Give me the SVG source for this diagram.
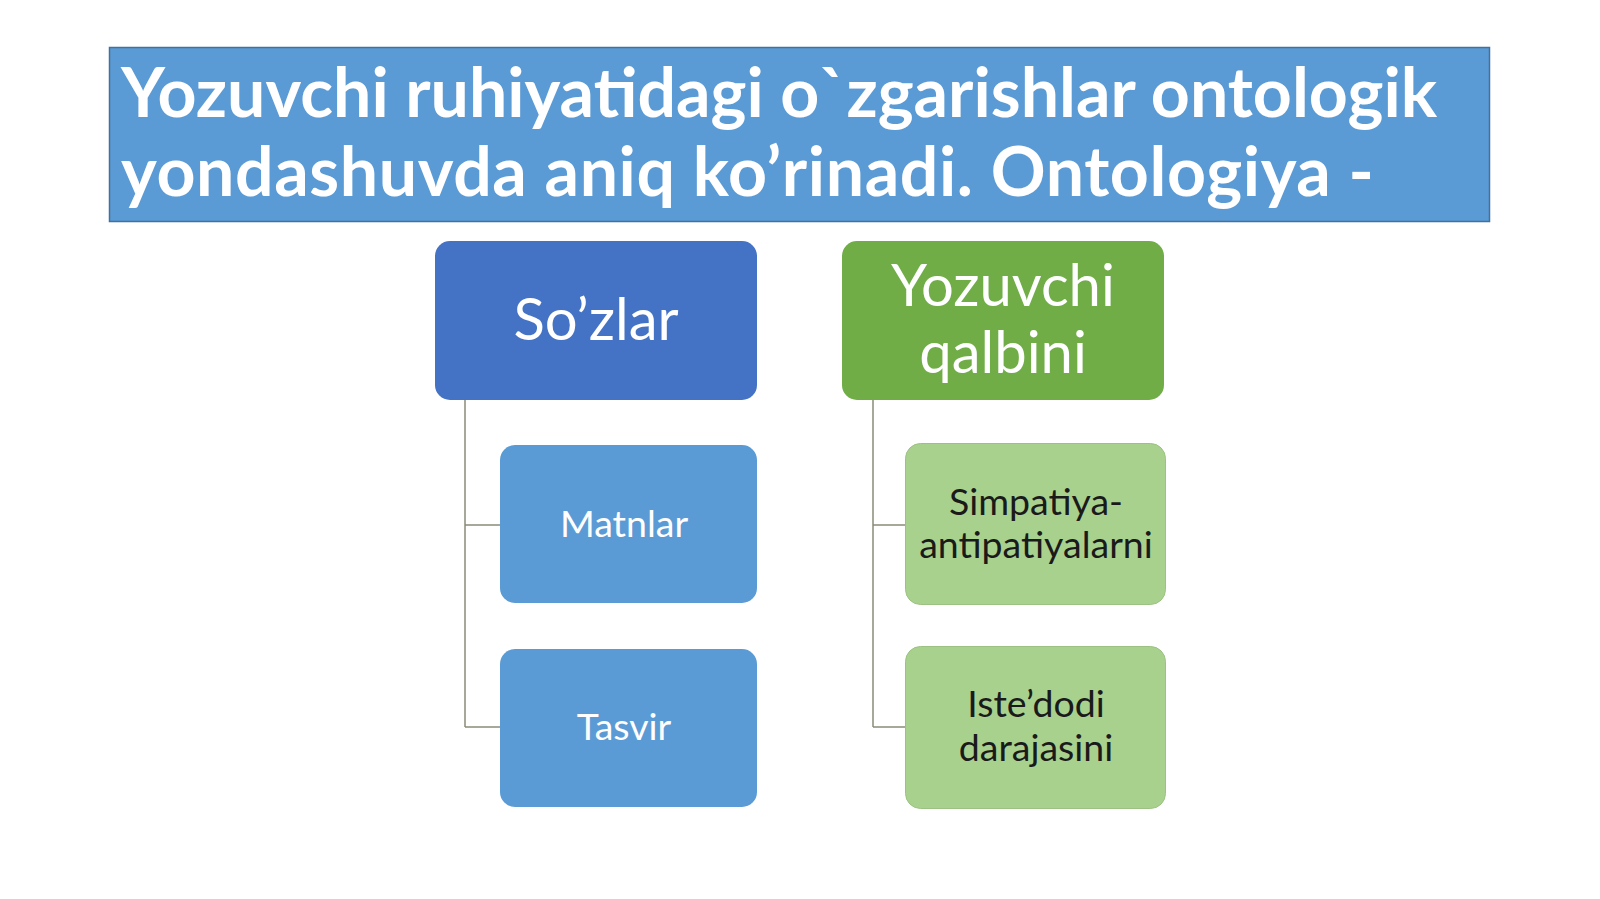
<svg xmlns="http://www.w3.org/2000/svg" width="1600" height="899" viewBox="0 0 1600 899">
<style>
.t{font-family:Lato,"Open Sans","Liberation Sans",sans-serif;text-anchor:middle}
.w{fill:#ffffff}
.k{fill:#1a1a1a}
.c{fill:none;stroke:#8a8a7a;stroke-width:1.5}
.h{font-family:Lato,"Open Sans","Liberation Sans",sans-serif;font-weight:bold;font-size:68px;fill:#ffffff}
</style>
<rect width="1600" height="899" fill="#ffffff"/>
<g id="title">
<rect x="109.5" y="47.5" width="1380" height="174" fill="#5b9bd5" stroke="#41719c" stroke-width="1.5"/>
<text class="h" x="121" y="117">Yozuvchi ruhiyatidagi o`zgarishlar ontologik</text>
<text class="h" x="121" y="196" letter-spacing="0.6">yondashuvda aniq ko’rinadi. Ontologiya -</text>
</g>
<g id="connectors">
<path class="c" d="M465 400V727M465 525H500M465 727H500"/>
<path class="c" d="M873 400V727M873 525H905M873 727H905"/>
</g>
<g id="sozlar">
<rect x="435" y="241" width="322" height="159" rx="15" fill="#4472c4"/>
<text class="t w" x="596" y="340" font-size="58">So’zlar</text>
</g>
<g id="matnlar">
<rect x="500" y="445" width="257" height="158" rx="15" fill="#5b9bd5"/>
<text class="t w" x="624" y="537" font-size="37.5">Matnlar</text>
</g>
<g id="tasvir">
<rect x="500" y="649" width="257" height="158" rx="15" fill="#5b9bd5"/>
<text class="t w" x="624" y="740" font-size="37.5">Tasvir</text>
</g>
<g id="yozuvchi">
<rect x="842" y="241" width="322" height="159" rx="15" fill="#70ad47"/>
<text class="t w" x="1003" y="306" font-size="58">Yozuvchi</text>
<text class="t w" x="1003" y="373" font-size="58">qalbini</text>
</g>
<g id="simpatiya">
<rect x="905.5" y="443.5" width="260" height="161" rx="15" fill="#a9d18e" stroke="#9cc283" stroke-width="1"/>
<text class="t k" x="1036" y="515" font-size="37.5">Simpatiya-</text>
<text class="t k" x="1036" y="558" font-size="37.5">antipatiyalarni</text>
</g>
<g id="istedod">
<rect x="905.5" y="646.5" width="260" height="162" rx="15" fill="#a9d18e" stroke="#9cc283" stroke-width="1"/>
<text class="t k" x="1036" y="717" font-size="37.5">Iste’dodi</text>
<text class="t k" x="1036" y="761" font-size="37.5">darajasini</text>
</g>
</svg>
